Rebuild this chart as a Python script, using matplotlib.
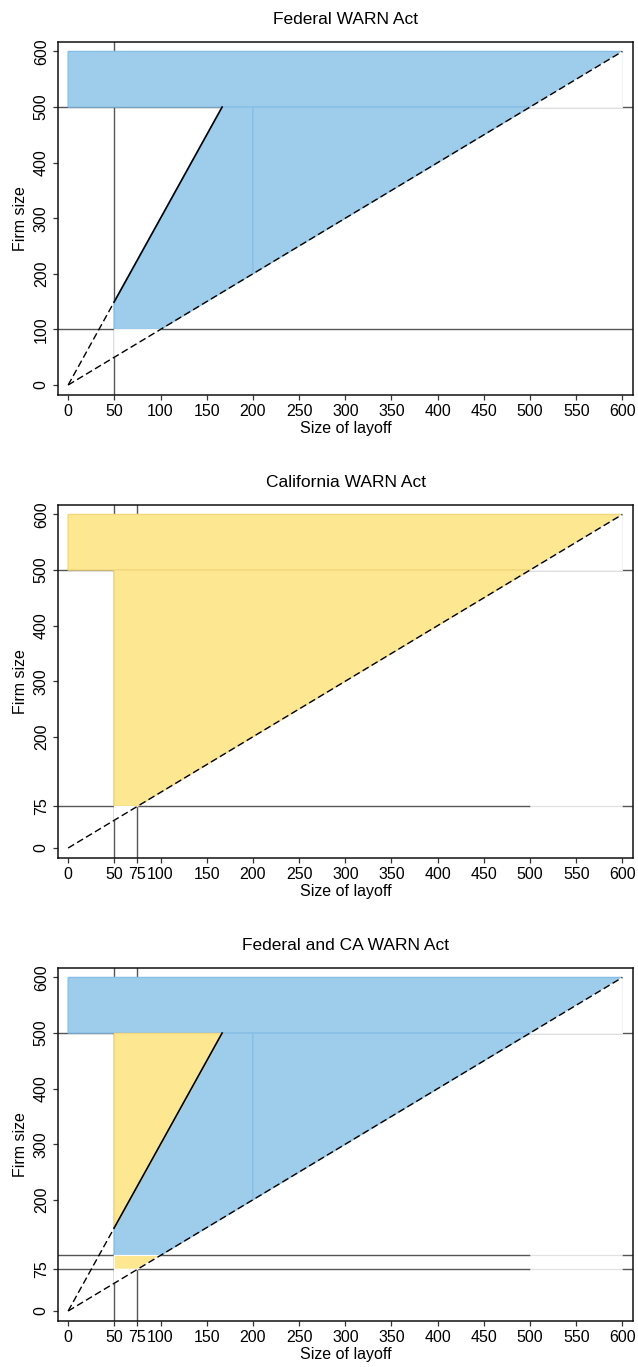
import numpy as np
import matplotlib
matplotlib.use("Agg")
import matplotlib.pyplot as plt
from matplotlib.patches import Polygon

plt.rcParams["font.family"] = ["Liberation Sans", "DejaVu Sans"]

# ---- thresholds of the two laws ----
AXIS_MAX = 600          # largest layoff / firm size shown
MIN_LAYOFF = 50         # minimum layoff size (both laws)
FED_MIN_FIRM = 100      # federal minimum firm size
CA_MIN_FIRM = 75        # California minimum firm size
FED_SHARE = 3           # federal: layoff must be at least 1/3 of firm size
MASS_FIRM = 500         # federal mass-layoff firm size
SPLIT_LAYOFF = 200      # seam between the two pieces of the federal region

# ---- tick values ----
fed_layoff_ticks = [0, 50, 100, 150, 200, 250, 300, 350, 400, 450, 500, 550, 600]
fed_firm_ticks = [0, 100, 200, 300, 400, 500, 600]
ca_layoff_ticks = [0, 50, 75, 100, 150, 200, 250, 300, 350, 400, 450, 500, 550, 600]
ca_firm_ticks = [0, 75, 200, 300, 400, 500, 600]

titles = ["Federal WARN Act", "California WARN Act", "Federal and CA WARN Act"]

BLUE = "#9dcdeb"
BLUE_EDGE = "#88bfe6"
YELLOW = "#fde791"
YELLOW_EDGE = "#f3d87c"
REF = "#555555"
MASK_EDGE = "#f0f4f7"

fig = plt.figure(figsize=(6.38, 13.67), dpi=100)
ax_left, ax_w, ax_h = 58 / 638, 575 / 638, 353 / 1367
bottoms = [1 - 395 / 1367, 1 - 858 / 1367, 1 - 1321 / 1367]

share_top = MASS_FIRM / FED_SHARE  # layoff where the share line reaches 500


def poly(ax, pts, face, edge, lw=1.0, z=2):
    ax.add_patch(Polygon(pts, closed=True, facecolor=face, edgecolor=edge,
                         linewidth=lw, zorder=z))


def top_band(ax, face, edge):
    poly(ax, [(0, MASS_FIRM), (0, AXIS_MAX), (AXIS_MAX, AXIS_MAX), (MASS_FIRM, MASS_FIRM)],
         face, edge)
    # area under the diagonal in the top band stays empty
    poly(ax, [(MASS_FIRM, MASS_FIRM), (AXIS_MAX, MASS_FIRM), (AXIS_MAX, AXIS_MAX)],
         "white", MASK_EDGE, lw=0.8, z=2.4)


def federal_region(ax):
    top_band(ax, BLUE, BLUE_EDGE)
    poly(ax, [(MIN_LAYOFF, FED_MIN_FIRM), (FED_MIN_FIRM, FED_MIN_FIRM),
              (SPLIT_LAYOFF, SPLIT_LAYOFF), (SPLIT_LAYOFF, MASS_FIRM),
              (share_top, MASS_FIRM), (MIN_LAYOFF, MIN_LAYOFF * FED_SHARE)],
         BLUE, BLUE_EDGE)
    poly(ax, [(SPLIT_LAYOFF, SPLIT_LAYOFF), (MASS_FIRM, MASS_FIRM),
              (SPLIT_LAYOFF, MASS_FIRM)], BLUE, BLUE_EDGE)


def hide_segment(ax, y):
    # blank out a reference line between 500 and 600
    ax.plot([MASS_FIRM, AXIS_MAX], [y, y], color="white", lw=2.0, zorder=2.3,
            solid_capstyle="butt")
    ax.plot([MASS_FIRM, AXIS_MAX], [y, y], color="#dcdcdc", lw=0.6, zorder=2.35,
            solid_capstyle="butt")


def diagonal(ax, with_share=True):
    ax.plot([0, AXIS_MAX], [0, AXIS_MAX], color="black", lw=1.0,
            ls=(0, (5, 2.5)), zorder=4)
    if with_share:
        ax.plot([0, MIN_LAYOFF], [0, MIN_LAYOFF * FED_SHARE], color="black", lw=1.0,
                ls=(0, (5, 2.5)), zorder=4)
        ax.plot([MIN_LAYOFF, share_top], [MIN_LAYOFF * FED_SHARE, MASS_FIRM],
                color="black", lw=1.2, zorder=4)


def style(ax, xt, yt, title):
    ax.set_xlim(-11, 611.5)
    ax.set_ylim(-18, 617)
    ax.set_xticks(xt)
    ax.set_yticks(yt)
    ax.tick_params(axis="both", direction="out", length=3.6, width=0.9,
                   color="#333333", labelsize=11.5, pad=3)
    ax.tick_params(axis="y", labelrotation=90)
    for lab in ax.get_yticklabels():
        lab.set_va("center")
    for s in ax.spines.values():
        s.set_linewidth(1.1)
        s.set_color("#111111")
        s.set_zorder(6)
    ax.set_title(title, fontsize=12.5, pad=13)
    ax.set_xlabel("Size of layoff", fontsize=11.5)
    ax.set_ylabel("Firm size", fontsize=11.5)
    ax.xaxis.set_label_coords(0.5, -0.074)
    ax.yaxis.set_label_coords(-0.053, 0.5)


def ref_lines(ax, xs, ys):
    for x in xs:
        ax.axvline(x, color=REF, lw=1.0, zorder=1)
    for y in ys:
        ax.axhline(y, color=REF, lw=1.0, zorder=1)


axes = [fig.add_axes([ax_left, b, ax_w, ax_h]) for b in bottoms]

# ---- Federal ----
ax = axes[0]
ref_lines(ax, [MIN_LAYOFF], [FED_MIN_FIRM, MASS_FIRM])
federal_region(ax)
poly(ax, [(MIN_LAYOFF, MIN_LAYOFF), (MIN_LAYOFF, FED_MIN_FIRM),
          (FED_MIN_FIRM, FED_MIN_FIRM)], "white", MASK_EDGE, lw=0.8, z=2.4)
diagonal(ax)
style(ax, fed_layoff_ticks, fed_firm_ticks, titles[0])

# ---- California ----
ax = axes[1]
ref_lines(ax, [MIN_LAYOFF, CA_MIN_FIRM], [CA_MIN_FIRM, MASS_FIRM])
top_band(ax, YELLOW, YELLOW_EDGE)
poly(ax, [(MIN_LAYOFF, CA_MIN_FIRM), (CA_MIN_FIRM, CA_MIN_FIRM),
          (MASS_FIRM, MASS_FIRM), (MIN_LAYOFF, MASS_FIRM)], YELLOW, YELLOW_EDGE)
poly(ax, [(MIN_LAYOFF, MIN_LAYOFF), (MIN_LAYOFF, CA_MIN_FIRM),
          (CA_MIN_FIRM, CA_MIN_FIRM)], "white", "white", lw=0.8, z=2.4)
hide_segment(ax, CA_MIN_FIRM)
diagonal(ax, with_share=False)
style(ax, ca_layoff_ticks, ca_firm_ticks, titles[1])

# ---- Federal and California combined ----
ax = axes[2]
ref_lines(ax, [MIN_LAYOFF, CA_MIN_FIRM], [CA_MIN_FIRM, FED_MIN_FIRM, MASS_FIRM])
federal_region(ax)
poly(ax, [(MIN_LAYOFF, MIN_LAYOFF * FED_SHARE), (MIN_LAYOFF, MASS_FIRM),
          (share_top, MASS_FIRM)], YELLOW, YELLOW_EDGE)
poly(ax, [(MIN_LAYOFF, CA_MIN_FIRM), (CA_MIN_FIRM, CA_MIN_FIRM),
          (FED_MIN_FIRM, FED_MIN_FIRM), (MIN_LAYOFF, FED_MIN_FIRM)],
     YELLOW, "white", lw=0.8)
poly(ax, [(MIN_LAYOFF, MIN_LAYOFF), (MIN_LAYOFF, CA_MIN_FIRM),
          (CA_MIN_FIRM, CA_MIN_FIRM)], "white", "white", lw=0.8, z=2.4)
hide_segment(ax, CA_MIN_FIRM)
hide_segment(ax, FED_MIN_FIRM)
diagonal(ax)
style(ax, ca_layoff_ticks, ca_firm_ticks, titles[2])

fig.savefig("out.png", dpi=100)
